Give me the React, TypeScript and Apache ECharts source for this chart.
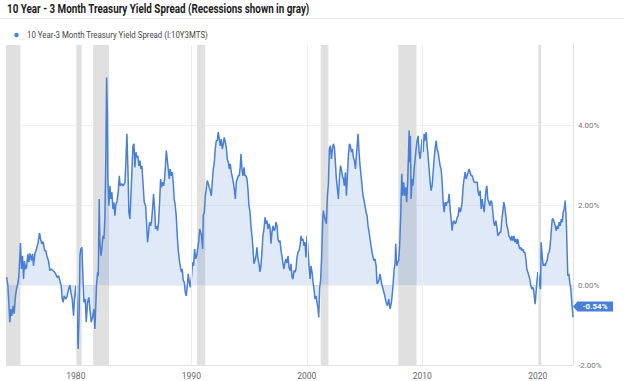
import React, { useEffect, useRef } from "react";
import * as echarts from "echarts";

const titleText = "10 Year - 3 Month Treasury Yield Spread (Recessions shown in gray)";
const seriesName = "10 Year-3 Month Treasury Yield Spread (I:10Y3MTS)";

// [decimal year, spread %]
const spread1970s: [number, number][] = [
  [1974.0, 0.2], [1974.11, 0.0], [1974.28, -0.93], [1974.37, -0.6], [1974.45, -0.77], [1974.57, -0.52],
  [1974.66, -0.72], [1974.77, -0.27], [1974.86, -0.1], [1974.97, 0.03], [1975.06, 0.23], [1975.15, 0.73],
  [1975.2, 1.05], [1975.29, 0.4], [1975.38, 0.73], [1975.47, 0.15], [1975.55, 0.6], [1975.64, 0.4],
  [1975.73, 0.44], [1975.84, 0.78], [1975.93, 0.57], [1976.04, 0.79], [1976.16, 0.61], [1976.25, 0.78],
  [1976.33, 0.48], [1976.45, 0.78], [1976.59, 0.9], [1976.74, 1.07], [1976.85, 1.3], [1976.94, 1.15],
  [1977.05, 1.03], [1977.17, 1.08], [1977.29, 0.86], [1977.4, 0.86], [1977.52, 0.69], [1977.63, 0.61],
  [1977.75, 0.36], [1977.86, 0.4], [1978.04, 0.36], [1978.21, 0.3], [1978.38, 0.19], [1978.5, 0.23],
  [1978.61, 0.11], [1978.73, -0.02], [1978.82, -0.35], [1978.9, -0.43], [1978.99, -0.27], [1979.11, -0.35],
  [1979.22, -0.31], [1979.34, -0.14], [1979.48, 0.0], [1979.57, -0.18], [1979.68, -0.35], [1979.8, -0.77],
  [1979.88, -0.35],
];

const spread1980s: [number, number][] = [
  [1980.0, -0.02], [1980.09, -0.43], [1980.14, -1.27], [1980.2, -1.6], [1980.29, -0.6], [1980.35, 0.73],
  [1980.43, 0.9], [1980.52, 0.94], [1980.61, 0.23], [1980.69, -0.43], [1980.81, -0.35], [1980.9, -0.93],
  [1981.01, -0.43], [1981.13, -0.31], [1981.21, -0.6], [1981.33, -0.93], [1981.44, -0.81], [1981.56, -0.6],
  [1981.65, -1.1], [1981.79, 0.0], [1981.88, 0.32], [1981.94, 0.23], [1982.02, 2.15], [1982.08, 1.07],
  [1982.17, 0.73], [1982.25, 0.9], [1982.34, 1.23], [1982.43, 1.15], [1982.51, 1.65], [1982.6, 3.3],
  [1982.66, 5.19], [1982.72, 4.4], [1982.77, 2.65], [1982.86, 1.98], [1982.95, 2.48], [1983.03, 2.15],
  [1983.12, 2.32], [1983.21, 1.9], [1983.29, 2.07], [1983.38, 1.73], [1983.47, 2.03], [1983.55, 2.07],
  [1983.67, 2.32], [1983.76, 2.73], [1983.84, 2.48], [1983.96, 2.53], [1984.1, 2.48], [1984.25, 2.57],
  [1984.33, 3.07], [1984.42, 3.78], [1984.51, 2.9], [1984.59, 1.82], [1984.68, 1.65], [1984.77, 2.23],
  [1984.85, 2.82], [1984.94, 3.48], [1985.03, 3.53], [1985.11, 2.94], [1985.2, 3.32], [1985.29, 3.19],
  [1985.37, 3.23], [1985.46, 2.98], [1985.55, 3.11], [1985.63, 2.9], [1985.72, 2.98], [1985.81, 2.57],
  [1985.92, 2.07], [1986.04, 1.98], [1986.12, 1.57], [1986.21, 1.07], [1986.3, 1.32], [1986.38, 1.57],
  [1986.47, 1.48], [1986.56, 1.61], [1986.64, 1.9], [1986.73, 2.28], [1986.82, 1.9], [1986.9, 1.4],
  [1986.99, 1.48], [1987.08, 1.36], [1987.16, 1.57], [1987.25, 2.07], [1987.34, 2.65], [1987.42, 2.44],
  [1987.51, 2.57], [1987.6, 2.48], [1987.68, 2.65], [1987.77, 3.03], [1987.83, 3.36], [1987.91, 3.15],
  [1988.0, 2.9], [1988.09, 2.65], [1988.17, 2.9], [1988.26, 2.73], [1988.35, 2.82], [1988.43, 2.57],
  [1988.52, 2.15], [1988.61, 1.98], [1988.69, 1.73], [1988.78, 1.23], [1988.87, 0.86], [1988.95, 0.65],
  [1989.04, 0.48], [1989.13, 0.32], [1989.21, 0.4], [1989.3, 0.11], [1989.39, 0.07], [1989.47, -0.18],
  [1989.56, -0.27], [1989.65, -0.02], [1989.73, 0.28], [1989.82, 0.07], [1989.91, -0.06],
];

const spread1990s: [number, number][] = [
  [1990.02, 0.23], [1990.11, 0.57], [1990.2, 0.48], [1990.28, 0.9], [1990.37, 0.65], [1990.46, 0.73],
  [1990.63, 1.07], [1990.72, 1.4], [1990.8, 1.32], [1990.89, 1.23], [1990.98, 0.9], [1991.03, 1.73],
  [1991.12, 1.82], [1991.21, 2.23], [1991.29, 2.4], [1991.38, 2.61], [1991.47, 2.53], [1991.55, 2.44],
  [1991.64, 2.36], [1991.73, 2.23], [1991.81, 2.57], [1991.9, 2.9], [1991.99, 3.07], [1992.07, 3.4],
  [1992.16, 3.61], [1992.25, 3.61], [1992.33, 3.82], [1992.42, 3.65], [1992.51, 3.48], [1992.59, 3.65],
  [1992.68, 3.4], [1992.77, 3.53], [1992.85, 3.69], [1992.94, 3.57], [1993.03, 3.44], [1993.11, 3.15],
  [1993.2, 3.07], [1993.29, 2.9], [1993.37, 3.03], [1993.46, 2.82], [1993.55, 2.69], [1993.63, 2.57],
  [1993.72, 2.4], [1993.81, 2.15], [1993.89, 2.57], [1993.98, 2.65], [1994.07, 2.73], [1994.15, 2.73],
  [1994.24, 2.98], [1994.3, 3.28], [1994.38, 2.9], [1994.47, 2.73], [1994.56, 2.94], [1994.64, 2.73],
  [1994.73, 2.73], [1994.82, 2.65], [1994.9, 2.4], [1994.99, 1.98], [1995.08, 1.82], [1995.16, 1.48],
  [1995.25, 1.23], [1995.34, 0.9], [1995.42, 0.53], [1995.51, 0.61], [1995.6, 0.73], [1995.68, 0.94],
  [1995.77, 0.65], [1995.86, 0.53], [1995.94, 0.33], [1996.03, 0.48], [1996.12, 0.86], [1996.2, 1.23],
  [1996.29, 1.4], [1996.38, 1.69], [1996.46, 1.53], [1996.55, 1.61], [1996.64, 1.4], [1996.72, 1.53],
  [1996.81, 1.44], [1996.9, 1.03], [1996.98, 1.32], [1997.07, 1.48], [1997.16, 1.36], [1997.24, 1.4],
  [1997.33, 1.57], [1997.42, 1.48], [1997.5, 1.15], [1997.59, 1.07], [1997.68, 1.11], [1997.76, 0.86],
  [1997.85, 0.73], [1997.94, 0.53], [1998.02, 0.4], [1998.11, 0.57], [1998.2, 0.65], [1998.28, 0.55],
  [1998.37, 0.73], [1998.46, 0.44], [1998.54, 0.36], [1998.63, 0.53], [1998.72, 0.19], [1998.8, 0.15],
  [1998.89, 0.36], [1998.98, 0.32], [1999.06, 0.4], [1999.15, 0.69], [1999.24, 0.82], [1999.32, 0.86],
  [1999.41, 0.98], [1999.5, 1.23], [1999.58, 1.11], [1999.67, 1.15], [1999.76, 0.98], [1999.84, 1.07],
  [1999.93, 0.69],
];

const spread2000s: [number, number][] = [
  [2000.02, 1.23], [2000.1, 0.86], [2000.19, 0.48], [2000.28, 0.15], [2000.36, 0.48], [2000.45, 0.32],
  [2000.54, 0.07], [2000.62, -0.1], [2000.71, -0.35], [2000.8, -0.27], [2000.88, -0.43], [2000.97, -0.6],
  [2001.03, -0.81], [2001.11, -0.1], [2001.2, 0.15], [2001.29, 0.73], [2001.37, 1.57], [2001.43, 1.86],
  [2001.52, 1.73], [2001.61, 1.61], [2001.69, 1.53], [2001.78, 2.23], [2001.87, 2.53], [2001.95, 3.4],
  [2002.04, 3.48], [2002.13, 3.15], [2002.21, 3.4], [2002.3, 3.53], [2002.39, 3.44], [2002.47, 3.07],
  [2002.56, 2.65], [2002.65, 2.4], [2002.73, 2.15], [2002.82, 2.65], [2002.91, 2.98], [2002.99, 2.9],
  [2003.08, 2.73], [2003.17, 2.65], [2003.25, 2.48], [2003.34, 2.82], [2003.43, 2.23], [2003.51, 2.73],
  [2003.6, 3.23], [2003.69, 3.53], [2003.77, 3.48], [2003.86, 3.32], [2003.95, 3.4], [2004.03, 3.19],
  [2004.12, 3.11], [2004.21, 2.9], [2004.29, 3.23], [2004.38, 3.57], [2004.44, 3.78], [2004.52, 3.32],
  [2004.61, 2.98], [2004.7, 2.73], [2004.78, 2.48], [2004.87, 2.23], [2004.96, 2.11], [2005.04, 1.98],
  [2005.13, 1.82], [2005.22, 1.73], [2005.3, 1.48], [2005.39, 1.32], [2005.48, 1.15], [2005.56, 0.98],
  [2005.65, 0.82], [2005.74, 0.69], [2005.82, 0.61], [2005.91, 0.65], [2006.0, 0.48], [2006.08, 0.03],
  [2006.17, 0.07], [2006.26, 0.15], [2006.34, 0.28], [2006.43, 0.11], [2006.52, -0.02], [2006.6, -0.1],
  [2006.75, -0.27], [2006.86, -0.43], [2006.98, -0.52], [2007.09, -0.35], [2007.21, -0.6], [2007.33, -0.43],
  [2007.44, -0.1], [2007.56, 0.4], [2007.64, 0.53], [2007.7, 1.03], [2007.79, 0.48], [2007.87, 0.57],
  [2007.96, 0.61], [2008.05, 1.07], [2008.13, 1.73], [2008.22, 2.78], [2008.31, 2.23], [2008.39, 2.57],
  [2008.48, 2.23], [2008.57, 2.44], [2008.65, 2.07], [2008.74, 2.65], [2008.8, 3.23], [2008.86, 3.86],
  [2008.91, 3.07], [2008.97, 3.73], [2009.03, 2.15], [2009.12, 2.65], [2009.19, 2.48], [2009.29, 2.9],
  [2009.38, 3.15], [2009.46, 3.4], [2009.55, 3.61], [2009.64, 3.73], [2009.72, 3.32], [2009.81, 3.15],
  [2009.9, 3.4], [2009.98, 3.65],
];

const spread2010s: [number, number][] = [
  [2010.07, 3.32], [2010.16, 3.78], [2010.24, 3.61], [2010.33, 3.82], [2010.42, 3.48], [2010.5, 3.23],
  [2010.59, 2.9], [2010.68, 2.57], [2010.76, 2.36], [2010.85, 2.48], [2010.94, 2.82], [2011.02, 3.15],
  [2011.11, 3.4], [2011.2, 3.61], [2011.28, 3.4], [2011.37, 3.32], [2011.46, 3.15], [2011.54, 2.98],
  [2011.63, 2.9], [2011.72, 2.57], [2011.8, 2.07], [2011.89, 1.82], [2011.98, 2.07], [2012.06, 1.98],
  [2012.15, 2.07], [2012.24, 2.07], [2012.32, 2.28], [2012.41, 1.9], [2012.5, 1.65], [2012.58, 1.36],
  [2012.67, 1.57], [2012.76, 1.61], [2012.84, 1.53], [2012.93, 1.57], [2013.02, 1.69], [2013.1, 1.73],
  [2013.19, 1.94], [2013.28, 1.82], [2013.36, 1.9], [2013.45, 2.07], [2013.54, 2.48], [2013.62, 2.65],
  [2013.71, 2.82], [2013.8, 2.65], [2013.88, 2.73], [2013.97, 2.82], [2014.06, 2.9], [2014.14, 2.82],
  [2014.23, 2.73], [2014.32, 2.73], [2014.4, 2.65], [2014.49, 2.57], [2014.58, 2.57], [2014.75, 2.57],
  [2014.84, 2.32], [2014.92, 2.23], [2015.01, 2.36], [2015.1, 1.9], [2015.18, 2.15], [2015.27, 1.98],
  [2015.36, 1.82], [2015.44, 2.15], [2015.53, 2.4], [2015.59, 2.48], [2015.67, 2.15], [2015.76, 2.07],
  [2015.85, 1.98], [2015.93, 2.11], [2016.02, 2.07], [2016.11, 1.82], [2016.19, 1.57], [2016.28, 1.48],
  [2016.37, 1.61], [2016.45, 1.48], [2016.54, 1.23], [2016.63, 1.28], [2016.71, 1.32], [2016.8, 1.32],
  [2016.89, 1.65], [2016.97, 1.82], [2017.06, 2.07], [2017.15, 1.94], [2017.23, 1.73], [2017.32, 1.48],
  [2017.41, 1.4], [2017.49, 1.23], [2017.58, 1.19], [2017.67, 1.11], [2017.75, 1.23], [2017.84, 1.11],
  [2017.93, 1.23], [2018.01, 1.07], [2018.1, 1.15], [2018.19, 1.03], [2018.27, 1.15], [2018.36, 0.98],
  [2018.45, 0.9], [2018.53, 0.94], [2018.62, 0.86], [2018.71, 0.9], [2018.79, 0.82], [2018.88, 0.82],
  [2018.97, 0.65], [2019.05, 0.4], [2019.14, 0.32], [2019.23, 0.23], [2019.31, 0.15], [2019.4, -0.02],
  [2019.49, -0.1], [2019.58, -0.06], [2019.66, -0.18], [2019.72, -0.35], [2019.77, -0.48], [2019.83, -0.27],
  [2019.92, 0.07],
];

const spread2020s: [number, number][] = [
  [2020.01, 0.32], [2020.09, 0.23], [2020.18, -0.02], [2020.24, -0.1], [2020.29, 1.07], [2020.38, 0.73],
  [2020.47, 0.48], [2020.55, 0.53], [2020.64, 0.48], [2020.73, 0.57], [2020.81, 0.61], [2020.9, 0.78],
  [2020.99, 0.82], [2021.07, 0.98], [2021.16, 1.32], [2021.25, 1.65], [2021.33, 1.65], [2021.42, 1.57],
  [2021.51, 1.48], [2021.59, 1.36], [2021.68, 1.48], [2021.77, 1.4], [2021.85, 1.57], [2021.94, 1.48],
  [2022.03, 1.65], [2022.11, 1.57], [2022.2, 1.82], [2022.29, 1.9], [2022.37, 2.11], [2022.43, 1.82],
  [2022.49, 1.4], [2022.55, 0.73], [2022.6, 0.23], [2022.69, 0.28], [2022.77, 0.07], [2022.86, -0.1],
  [2022.94, -0.43], [2023.05, -0.81],
];

// recession periods [start, end] in decimal years
const recessions: [number, number][] = [
  [1973.83, 1975.2], [1980.0, 1980.5], [1981.5, 1982.87], [1990.5, 1991.2],
  [2001.2, 2001.87], [2007.92, 2009.5], [2020.1, 2020.3],
];

const decadeTicks = [1980, 1990, 2000, 2010, 2020];
const lastValue = -0.54;
const lastDate = 2023.05;
const xMin = 1973.95;

const lineColor = "#4a7fd6";

function measure(text: string, font: string): number {
  const c = document.createElement("canvas").getContext("2d");
  if (!c) return 0;
  c.font = font;
  return c.measureText(text).width;
}

export default function App() {
  const ref = useRef<HTMLDivElement>(null);

  useEffect(() => {
    if (!ref.current) return;
    const chart = echarts.init(ref.current, null, { renderer: "svg" });

    const titleFont = "bold 13px Roboto";
    const legendFont = "9.5px Roboto";
    const titleW = measure(titleText, titleFont) || 400;
    const legendW = measure(seriesName, legendFont) || 230;
    const titleScale = 303 / titleW;
    const legendScale = 181 / legendW;

    const allData = [
      ...spread1970s, ...spread1980s, ...spread1990s,
      ...spread2000s, ...spread2010s, ...spread2020s,
    ];

    chart.setOption({
      animation: false,
      backgroundColor: "#ffffff",
      graphic: [
        {
          type: "text",
          x: 7,
          y: 8.5,
          scaleX: titleScale,
          style: {
            text: titleText,
            font: titleFont,
            fill: "#1c1c1c",
            textVerticalAlign: "middle",
            verticalAlign: "middle",
          },
        },
        {
          type: "line",
          shape: { x1: 0, y1: 18.5, x2: 624, y2: 18.5 },
          style: { stroke: "#e8e8e8", lineWidth: 1 },
        },
        {
          type: "circle",
          shape: { cx: 16.5, cy: 35, r: 2.2 },
          style: { fill: lineColor },
        },
        {
          type: "text",
          x: 27,
          y: 35,
          scaleX: legendScale,
          style: {
            text: seriesName,
            font: legendFont,
            fill: "#444444",
            textVerticalAlign: "middle",
            verticalAlign: "middle",
          },
        },
      ],
      grid: { left: 6, right: 51, top: 45, bottom: 16, containLabel: false },
      xAxis: {
        type: "value",
        min: xMin,
        max: lastDate,
        axisLine: { show: true, onZero: false, lineStyle: { color: "#e2e2e2", width: 1 } },
        axisTick: { show: false },
        splitLine: { show: false },
        axisLabel: {
          customValues: decadeTicks,
          formatter: (v: number) => String(Math.round(v)),
          color: "#666666",
          fontFamily: "Roboto",
          fontSize: 8.5,
          margin: 6,
        },
      },
      yAxis: {
        type: "value",
        position: "right",
        min: -2,
        max: 6,
        interval: 2,
        axisLine: { show: true, lineStyle: { color: "#e2e2e2", width: 1 } },
        axisTick: { show: false },
        splitLine: {
          show: true,
          lineStyle: {
            color: ["rgba(0,0,0,0)", "#f1f1f1", "#f1f1f1", "#f1f1f1", "rgba(0,0,0,0)"],
            width: 1,
          },
        },
        axisLabel: {
          formatter: (v: number) => (v >= 6 ? "" : v.toFixed(2) + "%"),
          color: "#777777",
          fontFamily: "Roboto",
          fontSize: 8,
          margin: 5,
          padding: [0, 0, 5, 0],
        },
      },
      series: [
        {
          type: "line",
          name: "recessions",
          data: [],
          z: 1,
          silent: true,
          markArea: {
            silent: true,
            itemStyle: { color: "#e0e0e0" },
            data: recessions.map(([s, e]) => [{ xAxis: s }, { xAxis: e }]),
          },
          markLine: {
            silent: true,
            symbol: "none",
            label: { show: false },
            lineStyle: { color: "#ececec", width: 1, type: "solid" },
            data: decadeTicks.map((v) => ({ xAxis: v })),
          },
        },
        {
          type: "line",
          name: seriesName,
          data: allData,
          z: 3,
          symbol: "none",
          showSymbol: false,
          lineStyle: { color: lineColor, width: 1.5 },
          itemStyle: { color: lineColor },
          areaStyle: { color: "rgba(74,127,214,0.24)", origin: 0 },
          markPoint: {
            silent: true,
            symbol: "path://M0,5L5,0L45,0L45,10L5,10Z",
            symbolSize: [40, 10],
            symbolKeepAspect: false,
            symbolOffset: [20, 0],
            itemStyle: { color: lineColor },
            label: {
              show: true,
              color: "#ffffff",
              fontFamily: "Roboto",
              fontWeight: "bold",
              fontSize: 8,
              formatter: () => lastValue.toFixed(2) + "%",
              offset: [2, 0],
            },
            data: [{ coord: [lastDate, lastValue] }],
          },
        },
      ],
    });

    return () => chart.dispose();
  }, []);

  return (
    <div
      ref={ref}
      style={{ position: "fixed", left: 0, top: 0, width: 624, height: 381, background: "#fff" }}
    />
  );
}
